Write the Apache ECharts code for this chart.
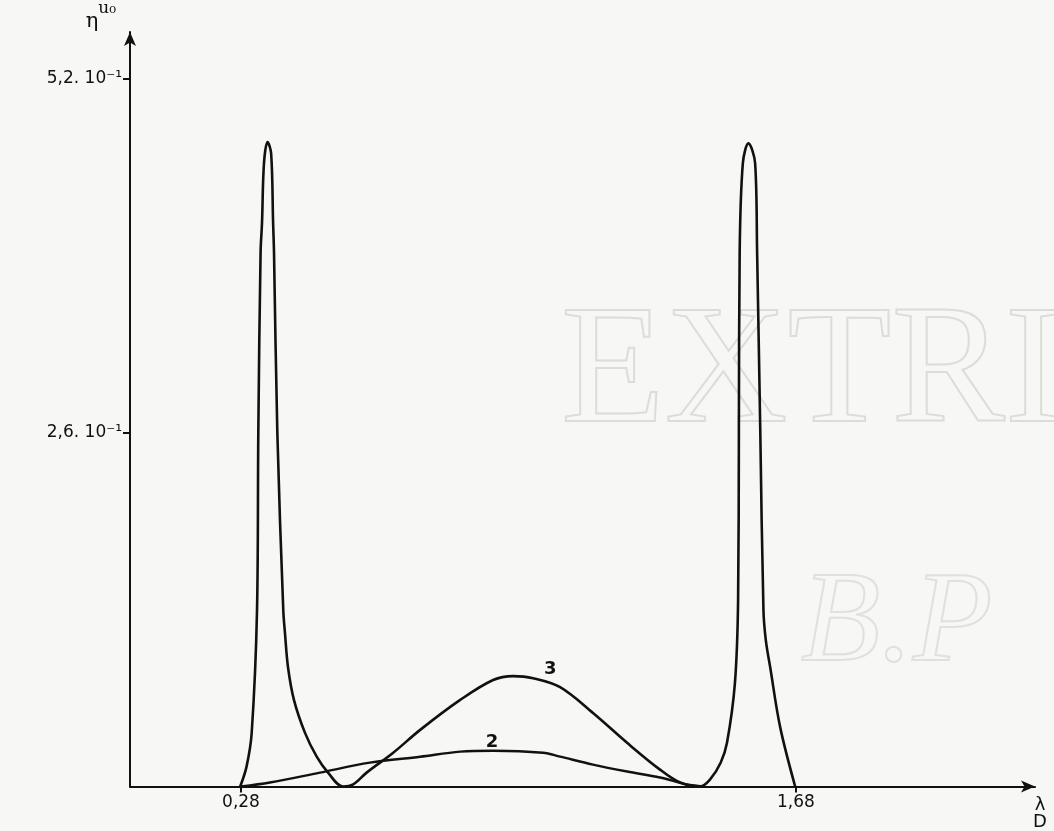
<!DOCTYPE html>
<html>
<head>
<meta charset="utf-8">
<script src="https://cdn.jsdelivr.net/npm/echarts@6/dist/echarts.min.js"></script>
<style>
  html, body { margin: 0; padding: 0; background: #f7f7f5; }
  #main { width: 1054px; height: 831px; }
</style>
</head>
<body>
<div id="main"></div>
<script>
// courbe principale (pics + bosse 3): [λ/D, ηu0]
const curve3X = [0.278, 0.294, 0.307, 0.3204, 0.3237, 0.3294, 0.333, 0.338, 0.347, 0.356, 0.361, 0.3633, 0.3716, 0.3867, 0.391, 0.3986, 0.4137, 0.4415, 0.471, 0.4995, 0.5373,
  0.563, 0.597, 0.664, 0.732, 0.833, 0.916, 0.966, 1.017, 1.085, 1.168, 1.254, 1.337, 1.388, 1.438,
  1.463, 1.490, 1.506, 1.526, 1.534, 1.536, 1.538, 1.546, 1.560, 1.577, 1.582, 1.590, 1.598, 1.604, 1.615, 1.640, 1.678];
const curve3Y = [0, 0.146, 0.394, 1.293, 2.607, 3.922, 4.141, 4.579, 4.735, 4.652, 4.141, 3.922, 2.607, 1.293, 1.125, 0.876, 0.635, 0.394, 0.219, 0.102, 0,
  0.015, 0.102, 0.248, 0.416, 0.636, 0.782, 0.811, 0.796, 0.730, 0.540, 0.321, 0.124, 0.029, 0,
  0.051, 0.175, 0.321, 0.760, 1.366, 2.607, 3.922, 4.579, 4.725, 4.579, 3.922, 2.607, 1.293, 1.074, 0.876, 0.438, 0];

// courbe 2
const curve2X = [0.28, 0.353, 0.479, 0.605, 0.732, 0.833, 0.916, 1.042, 1.085, 1.168, 1.254, 1.337, 1.405, 1.446];
const curve2Y = [0, 0.029, 0.102, 0.175, 0.219, 0.256, 0.263, 0.248, 0.219, 0.161, 0.110, 0.066, 0.015, 0];

const xTicks = [0.28, 1.68];
const xTickLabels = ['0,28', '1,68'];
const yTicks = [2.6, 5.2];
const yTickLabels = ['2,6. 10⁻¹', '5,2. 10⁻¹'];

window.addEventListener('load', function () {
  let chart = echarts.init(document.getElementById('main'));

  let pairs = function (xs, ys) {
    return xs.map(function (x, i) { return [x, ys[i]]; });
  };

  let option = {
    backgroundColor: '#f7f7f5',
    animation: false,
    grid: { left: 130, right: 19, top: 28, bottom: 44 },
    graphic: [
      {
        type: 'text', left: 560, top: 290, silent: true,
        style: { text: 'EXTRI', font: '170px "Liberation Serif"', fill: 'rgba(0,0,0,0)', stroke: '#dcdcda', lineWidth: 2 }
      },
      {
        type: 'text', left: 800, top: 560, silent: true,
        style: { text: 'B.P', font: 'italic 130px "Liberation Serif"', fill: 'rgba(0,0,0,0)', stroke: '#e0e0de', lineWidth: 2 }
      }
    ],
    xAxis: {
      type: 'value',
      min: 0,
      max: 2.283,
      splitLine: { show: false },
      axisLine: { onZero: false, symbol: ['none', 'arrow'], symbolSize: [9, 14], lineStyle: { color: '#111', width: 2 } },
      axisTick: { customValues: xTicks, length: 6, lineStyle: { color: '#111', width: 2 } },
      axisLabel: {
        customValues: xTicks,
        color: '#111', fontSize: 17, fontFamily: 'DejaVu Sans', margin: 8,
        formatter: function (v) { return xTickLabels[xTicks.indexOf(v)] || ''; }
      },
      name: 'λ\nD',
      nameLocation: 'end',
      nameGap: 5,
      nameTextStyle: {
        color: '#111', fontSize: 18, fontFamily: 'DejaVu Sans', lineHeight: 17,
        align: 'center', verticalAlign: 'top', padding: [10, 0, 0, 0]
      }
    },
    yAxis: {
      type: 'value',
      min: 0,
      max: 5.543,
      splitLine: { show: false },
      axisLine: { onZero: false, symbol: ['none', 'arrow'], symbolSize: [9, 14], lineStyle: { color: '#111', width: 2 } },
      axisTick: { customValues: yTicks, length: 7, lineStyle: { color: '#111', width: 2 } },
      axisLabel: {
        customValues: yTicks,
        color: '#111', fontSize: 17, fontFamily: 'DejaVu Sans', margin: 8,
        formatter: function (v) { return yTickLabels[yTicks.indexOf(v)] || ''; }
      },
      name: '{a|η}{b|u₀}',
      nameLocation: 'end',
      nameGap: 0,
      nameTextStyle: {
        align: 'right', padding: [0, 14, 0, 0],
        rich: {
          a: { color: '#111', fontSize: 21, fontFamily: 'DejaVu Serif', lineHeight: 32, verticalAlign: 'bottom' },
          b: { color: '#111', fontSize: 17, fontFamily: 'DejaVu Serif', lineHeight: 32, verticalAlign: 'top' }
        }
      }
    },
    series: [
      {
        name: '3',
        type: 'line',
        data: pairs(curve3X, curve3Y),
        showSymbol: false,
        smooth: 0.35,
        lineStyle: { color: '#111', width: 2.6 }
      },
      {
        name: '2',
        type: 'line',
        data: pairs(curve2X, curve2Y),
        showSymbol: false,
        smooth: 0.35,
        lineStyle: { color: '#111', width: 2.4 }
      },
      {
        type: 'scatter',
        symbolSize: 0,
        itemStyle: { color: '#111', opacity: 1 },
        data: [[1.06, 0.87, '3'], [0.913, 0.33, '2']],
        label: {
          show: true, position: 'top', distance: -10, color: '#111', fontSize: 18, fontWeight: 'bold', fontFamily: 'DejaVu Sans',
          formatter: function (p) { return p.data[2]; }
        }
      }
    ]
  };

  chart.setOption(option);
});
</script>
</body>
</html>
